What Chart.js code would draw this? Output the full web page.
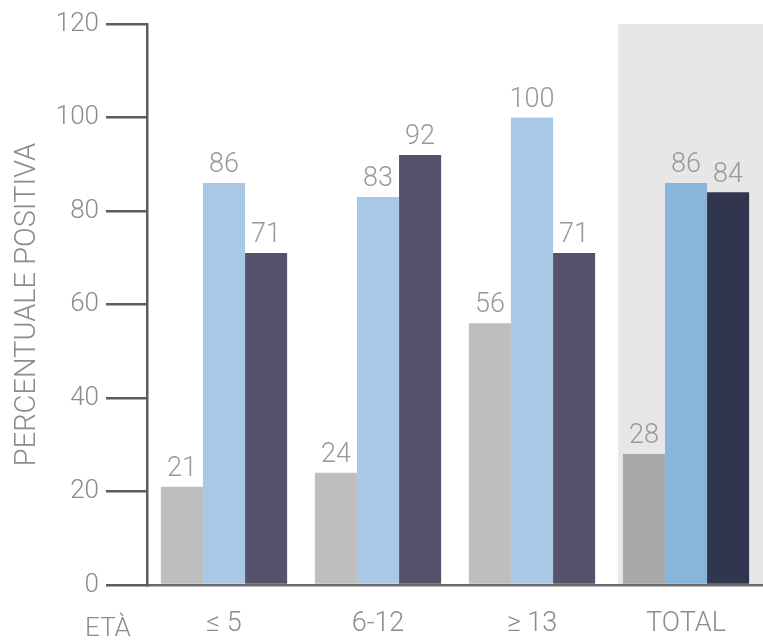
<!DOCTYPE html>
<html>
<head>
<meta charset="utf-8">
<script src="https://cdn.jsdelivr.net/npm/chart.js@4.4.0/dist/chart.umd.min.js"></script>
<style>
  body { margin: 0; background: #fff; }
  #wrap { width: 763px; height: 643px; }
</style>
</head>
<body>
<div id="wrap"><canvas id="chart" width="763" height="643"></canvas></div>
<script>
// categories and values
const categories = ['≤ 5', '6-12', '≥ 13', 'TOTAL'];
const seriesGray = [21, 24, 56, 28];
const seriesBlue = [86, 83, 100, 86];
const seriesDark = [71, 92, 71, 84];
const yTicks = [0, 20, 40, 60, 80, 100, 120];

const FONT = 'Roboto, "Liberation Sans", sans-serif';
const TEXT_GRAY = '#8c8c8c';

// the TOTAL column gets darker shades
const grayColors = ['#bebebe', '#bebebe', '#bebebe', '#a9a9a9'];
const blueColors = ['#a9c8e5', '#a9c8e5', '#a9c8e5', '#8ab5da'];
const darkColors = ['#57526b', '#57526b', '#57526b', '#323550'];

const totalShade = {
    id: 'totalShade',
    beforeDraw(chart) {
        const { ctx, chartArea, scales } = chart;
        const x = scales.x;
        const catW = x.width / categories.length;
        const left = x.getPixelForValue(3) - 0.44 * catW;
        ctx.save();
        ctx.fillStyle = '#e8e7e6';
        ctx.fillRect(left, chartArea.top, chartArea.right - left, chartArea.bottom - chartArea.top);
        ctx.restore();
    }
};

const barLabels = {
    id: 'barLabels',
    afterDatasetsDraw(chart) {
        const { ctx } = chart;
        ctx.save();
        ctx.font = '300 27px ' + FONT;
        ctx.fillStyle = '#999';
        ctx.textAlign = 'center';
        ctx.textBaseline = 'bottom';
        chart.data.datasets.forEach((ds, i) => {
            chart.getDatasetMeta(i).data.forEach((bar, j) => {
                ctx.fillText(ds.data[j], bar.x, bar.y - 4);
            });
        });
        ctx.restore();
    }
};

const ageLabel = {
    id: 'ageLabel',
    afterDraw(chart) {
        const { ctx, chartArea } = chart;
        ctx.save();
        ctx.font = '300 26px ' + FONT;
        ctx.fillStyle = TEXT_GRAY;
        ctx.textAlign = 'left';
        ctx.textBaseline = 'middle';
        ctx.fillText('ETÀ', 85, chartArea.bottom + 44);
        ctx.restore();
    }
};

new Chart(document.getElementById('chart').getContext('2d'), {
    type: 'bar',
    data: {
        labels: categories,
        datasets: [
            { data: seriesGray, backgroundColor: grayColors },
            { data: seriesBlue, backgroundColor: blueColors },
            { data: seriesDark, backgroundColor: darkColors }
        ]
    },
    options: {
        responsive: false,
        animation: false,
        layout: { padding: { top: 24, right: 0, bottom: 0, left: 0 } },
        categoryPercentage: 0.82,
        barPercentage: 1,
        plugins: {
            legend: { display: false },
            tooltip: { enabled: false }
        },
        scales: {
            x: {
                grid: { display: false, drawTicks: false },
                border: { display: true, color: '#6a6a6a', width: 2.5 },
                ticks: {
                    font: { family: FONT, size: 27, weight: 300 },
                    color: TEXT_GRAY,
                    padding: 23
                },
                afterFit(scale) { scale.height = 58; }
            },
            y: {
                min: 0,
                max: 120,
                afterBuildTicks(scale) {
                    scale.ticks = yTicks.map(v => ({ value: v }));
                },
                grid: {
                    drawOnChartArea: false,
                    drawTicks: true,
                    tickLength: 41,
                    color: '#5c5c5c',
                    lineWidth: 2.5
                },
                border: { display: true, color: '#5c5c5c', width: 2.5 },
                ticks: {
                    font: { family: FONT, size: 26, weight: 300 },
                    color: TEXT_GRAY,
                    padding: 7
                },
                title: {
                    display: true,
                    text: 'PERCENTUALE POSITIVA',
                    font: { family: FONT, size: 29, weight: 300 },
                    color: TEXT_GRAY,
                    padding: { top: 10, bottom: 0 }
                },
                afterFit(scale) { scale.width = 147; }
            }
        }
    },
    plugins: [totalShade, barLabels, ageLabel]
});
</script>
</body>
</html>
